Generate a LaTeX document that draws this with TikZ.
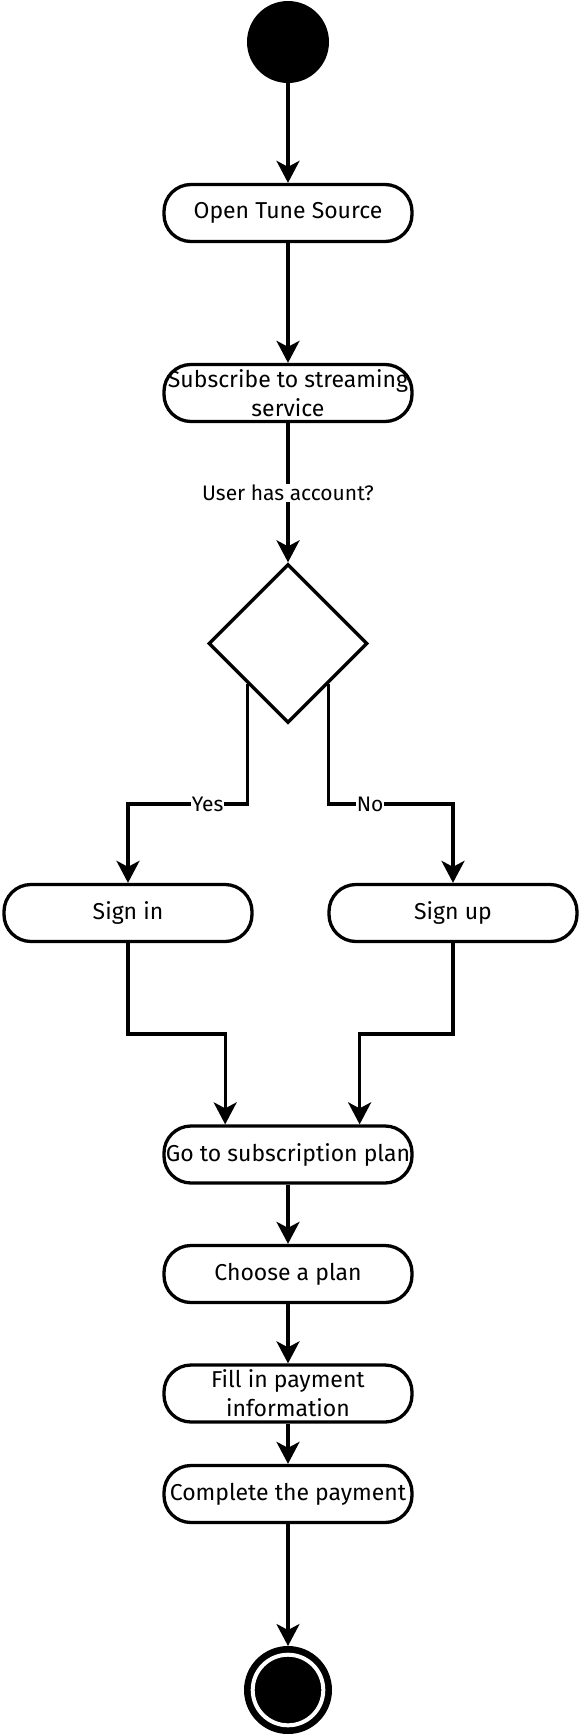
\documentclass[tikz,border=0pt]{standalone}
\usepackage{fontspec}
\setmainfont{Fira Sans}
\usetikzlibrary{shapes.geometric,arrows.meta,calc}
\begin{document}
\begin{tikzpicture}[x=1pt,y=-1pt,
  box/.style={draw, line width=3.3pt, rounded corners=27pt, minimum width=248pt, minimum height=57pt, inner sep=0pt, align=center, font=\fontsize{23}{29}\selectfont, fill=white},
  arr/.style={line width=3.3pt, -{Stealth[length=22pt,width=23pt,inset=6pt]}},
  lbl/.style={fill=white, inner sep=1pt, font=\fontsize{21}{24}\selectfont},
]
\useasboundingbox (0,0) rectangle (580,1734);
\node[circle, fill=black, minimum size=82pt, inner sep=0pt] (st) at (288,42) {};
\node[box] (open) at (288,213) {Open Tune Source};
\node[box] (sub) at (288,393) {Subscribe to streaming\\service};
\node[diamond, draw, line width=3.3pt, minimum width=159pt, minimum height=159pt, inner sep=0pt, aspect=1] (dec) at (288,643.5) {};
\node[box] (si) at (128,913) {Sign in};
\node[box] (su) at (453,913) {Sign up};
\node[box] (go) at (288,1154.5) {Go to subscription plan};
\node[box] (ch) at (288,1274) {Choose a plan};
\node[box] (fi) at (288,1393.5) {Fill in payment\\information};
\node[box] (cp) at (288,1494) {Complete the payment};
\node[circle, fill=black, minimum size=88pt, inner sep=0pt, outer sep=0pt] (end) at (288,1690) {};
\node[circle, fill=black, draw=white, line width=4pt, minimum size=70.6pt, inner sep=0pt] (endin) at (end.center) {};

\coordinate (yb) at (0,804);
\coordinate (yc) at (0,1034);
\coordinate (dl) at ($(dec.west)!.5!(dec.south)$);
\coordinate (dr) at ($(dec.east)!.5!(dec.south)$);
\coordinate (gl) at ($(go.north west)!.25!(go.north east)$);
\coordinate (gr) at ($(go.north west)!.785!(go.north east)$);

\draw[arr] (st) -- (open);
\draw[arr] (open) -- (sub);
\draw[arr] (sub) -- node[lbl]{User has account?} (dec);
\draw[arr] (dl) -- (dl |- yb) -- node[lbl,pos=1/3]{Yes} (si.north |- yb) -- (si.north);
\draw[arr] (dr) -- (dr |- yb) -- node[lbl,pos=1/3]{No} (su.north |- yb) -- (su.north);
\draw[arr] (si.south) -- (si.south |- yc) -| (gl);
\draw[arr] (su.south) -- (su.south |- yc) -| (gr);
\draw[arr] (go) -- (ch);
\draw[arr] (ch) -- (fi);
\draw[arr] (fi) -- (cp);
\draw[arr] (cp) -- (end);
\end{tikzpicture}
\end{document}
